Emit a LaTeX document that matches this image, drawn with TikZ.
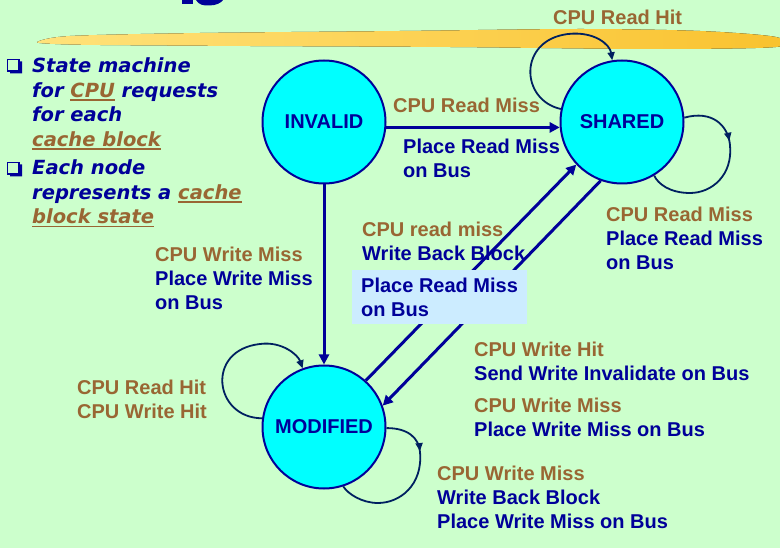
\documentclass[tikz,border=0pt]{standalone}
\usepackage{fontspec}
\setmainfont{Liberation Sans}
\newfontfamily\bulfont{DejaVu Sans}
\usetikzlibrary{arrows.meta,decorations.markings}
\definecolor{bg}{HTML}{CCFFCC}
\definecolor{evt}{HTML}{996633}
\definecolor{act}{HTML}{000099}
\definecolor{loopc}{HTML}{002060}
\definecolor{hlt}{HTML}{CCECFF}
\definecolor{stfill}{HTML}{00FFFF}
\definecolor{brush}{HTML}{F9C22E}
\definecolor{brushl}{HTML}{FFE27A}
\newsavebox{\ulbox}
\newcommand{\brul}[1]{\sbox{\ulbox}{#1}\textcolor{evt}{\rlap{\rule[-3.8pt]{\wd\ulbox}{1.8pt}}#1}}

\begin{document}
\begin{tikzpicture}[x=1pt, y=-1pt,
        state/.style = {circle, draw=act, line width=2pt, fill=stfill,
            minimum size=123pt, inner sep=0pt, text=act,
            font=\fontsize{20}{24}\selectfont\bfseries},
        trans/.style = {draw=act, line width=3pt, -{Triangle[length=10pt,width=10pt]}},
        selfloop/.style = {draw=loopc, line width=1.8pt},
        tipend/.style = {-{Triangle[length=8pt,width=7pt]}},
        tipmid/.style = {postaction={decorate, decoration={markings,
            mark=at position #1 with {\arrow{Triangle[length=8pt,width=7pt]}}}}},
        lbl/.style = {anchor=north west, inner sep=0pt, align=left, text=act,
            font=\fontsize{20}{24}\selectfont\bfseries},
        bul/.style = {anchor=north west, inner sep=0pt, align=left, text=act,
            font=\bulfont\fontsize{19.5}{24.5}\selectfont\bfseries\itshape}]
    \useasboundingbox (0,0) rectangle (780,548);
    \fill[bg] (0,0) rectangle (780,548);
    % title remnant and brush stroke
    \fill[act] (182,0) rectangle (192.5,4.5);
    \fill[act] (196,0) .. controls (199,5) and (203,5.5) .. (209,5.5)
        .. controls (216,5.5) and (221,3) .. (223,0) -- cycle;
    \fill[left color=brushl, right color=brush] plot[smooth cycle] coordinates
        {(37,42) (70,36) (200,33) (400,31) (580,29) (700,31) (776,37)
         (776,47) (650,49) (450,47) (250,46) (100,45) (55,44)};
    % bullets
    \foreach \y in {59,162} {
        \draw[act, line width=1.2pt] (7.6,\y+0.6) rectangle (19,\y+12);
        \fill[act] (19.6,\y+2.5) -- (22,\y+2.5) -- (22,\y+14.5) -- (10,\y+14.5)
            -- (10,\y+12.6) -- (19.6,\y+12.6) -- cycle;
    }
    \node[bul] (bul1) at (32,57.5) {State machine\\for \brul{CPU} requests\\for each\\\brul{cache block}};
    \node[bul] (bul2) at (32,159.5) {Each node\\represents a \brul{cache}\\\brul{block state}};
    % states
    \node[state] (inv) at (324,122) {INVALID};
    \node[state] (shr) at (622,122) {SHARED};
    \node[state] (mod) at (324,427) {MODIFIED};
    % transitions
    \draw[trans] (inv.-5) -- (shr.185);
    \draw[trans] (inv.south) -- (mod.north);
    \draw[trans] (mod.48) -- (shr.223);
    \draw[trans] (shr.250) -- (mod.20);
    \draw[selfloop, tipend] (shr.168) .. controls (520,100) and (518,40) .. (568,34)
        .. controls (595,31) and (610,45) .. (shr.99);
    \draw[selfloop, tipmid=0.33] (shr.4) .. controls (712,110) and (728,125) .. (730,145)
        .. controls (733,175) and (712,193) .. (690,193)
        .. controls (670,193) and (658,184) .. (shr.-59);
    \draw[selfloop, tipend] (mod.172) .. controls (214,418) and (205,350) .. (260,344)
        .. controls (282,341) and (298,355) .. (mod.110);
    \draw[selfloop, tipmid=0.28] (mod.-1) .. controls (408,428) and (419,438) .. (420,452)
        .. controls (423,485) and (400,503) .. (378,503)
        .. controls (362,503) and (348,494) .. (mod.-72);
    % labels
    \node[lbl, text=evt] (rhitS) at (553,9.5) {CPU Read Hit};
    \node[lbl, text=evt] (rmissI) at (393,98) {CPU Read Miss};
    \node[lbl] (rmissIa) at (403,139) {Place Read Miss\\on Bus};
    \node[lbl] (wmissI) at (155,247) {\textcolor{evt}{CPU Write Miss}\\Place Write Miss\\on Bus};
    \node[lbl] (rmissM) at (362,222) {\textcolor{evt}{CPU read miss}\\Write Back Block};
    \node[lbl, fill=hlt, inner xsep=9pt, inner ysep=7.5pt] (rmissMb) at (352,270) {Place Read Miss\\on Bus};
    \node[lbl] (rmissS) at (606,207) {\textcolor{evt}{CPU Read Miss}\\Place Read Miss\\on Bus};
    \node[lbl, text=evt] (hitM) at (77,380) {CPU Read Hit\\CPU Write Hit};
    \node[lbl] (whitS) at (474,342) {\textcolor{evt}{CPU Write Hit}\\Send Write Invalidate on Bus};
    \node[lbl] (wmissS) at (474,398) {\textcolor{evt}{CPU Write Miss}\\Place Write Miss on Bus};
    \node[lbl] (wmissM) at (437,466) {\textcolor{evt}{CPU Write Miss}\\Write Back Block\\Place Write Miss on Bus};
\end{tikzpicture}
\end{document}
